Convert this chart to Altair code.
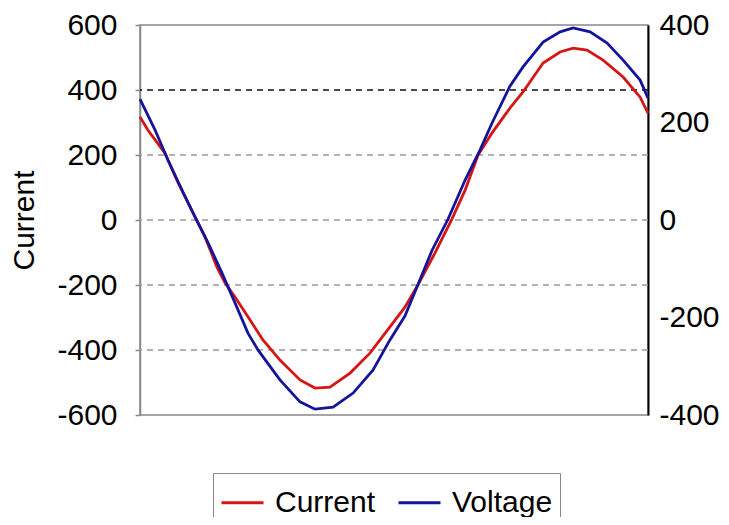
import altair as alt
import pandas as pd

# ---- data (time in ms over one cycle) ----
t_current = [0.00, 0.31, 0.98, 1.50, 1.97, 2.56, 3.03, 3.35, 3.74, 4.25, 4.84, 5.51,
             6.30, 6.89, 7.48, 8.27, 9.06, 9.84, 10.43, 10.94, 11.61, 12.28, 12.80,
             13.31, 13.86, 14.57, 15.08, 15.87, 16.54, 17.05, 17.60, 18.23, 19.02,
             19.69, 20.00]
current = [317, 277, 206, 114, 40, -52, -145, -194, -237, -298, -369, -431,
           -492, -517, -514, -471, -409, -329, -268, -200, -102, 3, 92,
           200, 268, 345, 394, 483, 517, 529, 523, 492, 440,
           378, 329]

t_voltage = [0.00, 0.59, 1.10, 1.65, 2.17, 2.68, 3.23, 3.74, 4.25, 4.65, 5.51, 6.30,
             6.89, 7.60, 8.39, 9.17, 9.84, 10.43, 10.94, 11.50, 12.13, 12.80, 13.39,
             13.86, 14.57, 15.08, 15.87, 16.54, 17.05, 17.72, 18.39, 19.02, 19.69, 20.00]
voltage = [248, 185, 123, 62, 6, -47, -109, -170, -232, -267, -328, -373,
           -388, -384, -355, -308, -246, -197, -133, -62, 2, 82, 144,
           199, 275, 314, 365, 386, 394, 386, 363, 328, 287, 250]

series_names = ["Current", "Voltage"]
left_ticks = [-600, -400, -200, 0, 200, 400, 600]
right_ticks = [-400, -200, 0, 200, 400]
grid_gray = [200, 0, -200, -400]
grid_dark = [400]

FONT = "Liberation Sans"
RED = "#d61515"
BLUE = "#14149a"
FS = 30

df_c = pd.DataFrame({"t": t_current, "value": current, "series": series_names[0]})
df_v = pd.DataFrame({"t": t_voltage, "value": voltage, "series": series_names[1]})
df_gg = pd.DataFrame({"value": grid_gray})
df_gd = pd.DataFrame({"value": grid_dark})

xenc = alt.X("t:Q", scale=alt.Scale(domain=[0, 20], nice=False, zero=False), axis=None)

yscale_c = alt.Scale(domain=[-600, 600], nice=False, zero=False)
yscale_v = alt.Scale(domain=[-400, 400], nice=False, zero=False)

left_axis = alt.Axis(orient="left", values=left_ticks, grid=False,
                     domainColor="#888888", domainWidth=1.5,
                     tickColor="#888888", tickSize=5, tickWidth=1.5,
                     labelExpr="'' + datum.value",
                     labelPadding=18, labelFont=FONT, labelFontSize=FS, labelColor="black",
                     title="Current", titleFont=FONT, titleFontSize=FS,
                     titleFontWeight="normal", titleColor="black", titlePadding=17)

right_axis = alt.Axis(orient="right", values=right_ticks, grid=False, ticks=False,
                      domainColor="black", domainWidth=2,
                      labelExpr="'' + datum.value",
                      labelPadding=11, labelFont=FONT, labelFontSize=FS, labelColor="black",
                      title=None)

color = alt.Color("series:N",
                  scale=alt.Scale(domain=series_names, range=[RED, BLUE]),
                  title=None,
                  legend=alt.Legend(orient="none", legendX=73, legendY=448,
                                    direction="horizontal",
                                    symbolType="stroke", symbolSize=1764,
                                    symbolStrokeWidth=2.8,
                                    labelFont=FONT, labelFontSize=30, labelColor="black",
                                    labelOffset=10, columnPadding=16,
                                    strokeColor="#888888", fillColor="white",
                                    padding=7))

grid1 = alt.Chart(df_gg).mark_rule(color="#999999", strokeDash=[6, 5], strokeWidth=1.5).encode(
    y=alt.Y("value:Q", scale=yscale_c, axis=left_axis))
grid2 = alt.Chart(df_gd).mark_rule(color="#111111", strokeDash=[6, 5], strokeWidth=1.5).encode(
    y=alt.Y("value:Q", scale=yscale_c, axis=left_axis))
line_c = alt.Chart(df_c).mark_line(strokeWidth=2.8).encode(
    x=xenc, y=alt.Y("value:Q", scale=yscale_c, axis=left_axis), color=color)

left_layer = alt.layer(grid1, grid2, line_c)

line_v = alt.Chart(df_v).mark_line(strokeWidth=2.8).encode(
    x=xenc, y=alt.Y("value:Q", scale=yscale_v, axis=right_axis), color=color)

chart = alt.layer(left_layer, line_v).resolve_scale(y="independent").properties(
    width=508, height=390,
    autosize=alt.AutoSizeParams(type="none"),
    padding={"left": 132, "top": 17, "right": 73, "bottom": 102},
    background="white",
).configure_view(stroke="#888888", strokeWidth=1.5)

chart.save("out.html", embed_options={"renderer": "svg", "actions": False})
